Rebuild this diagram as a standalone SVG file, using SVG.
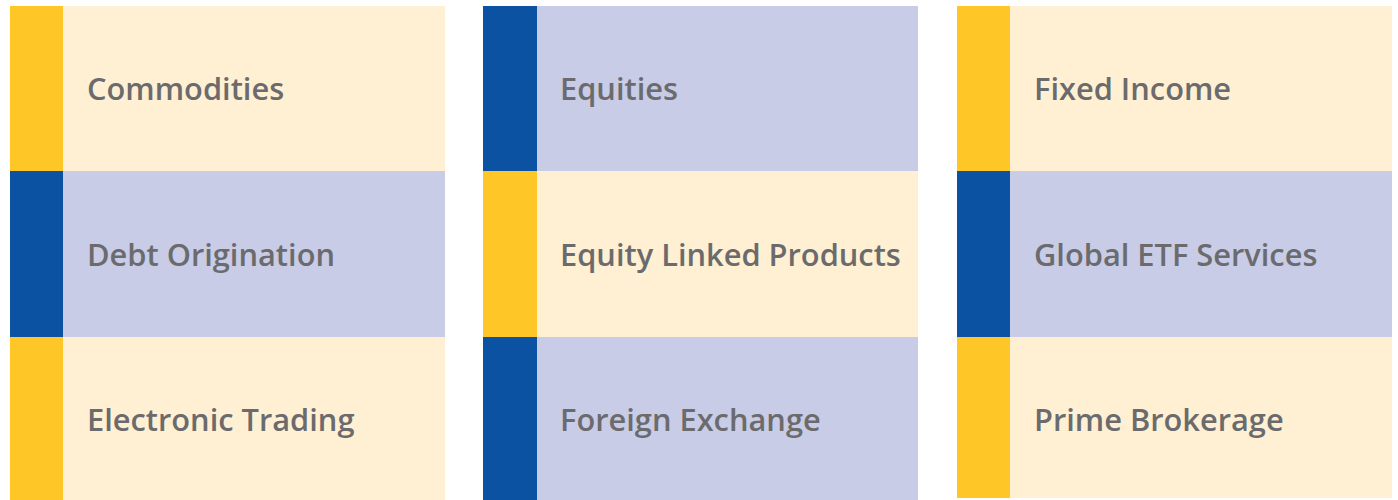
<svg xmlns="http://www.w3.org/2000/svg" width="1398" height="500" viewBox="0 0 1398 500">
<style>
.y{fill:#FFC627}.b{fill:#0B52A3}.py{fill:#FFF0D3}.pb{fill:#C8CCE7}
text{font-family:"Open Sans","Liberation Sans",sans-serif;font-weight:600;font-size:30.8px;fill:#6B6B6D}
</style>
<rect width="1398" height="500" fill="#fff"/>
<g id="commodities"><rect class="y" x="10" y="6" width="53" height="165"/><rect class="py" x="63" y="6" width="382" height="165"/><text x="87" y="100">Commodities</text></g>
<g id="debt-origination"><rect class="b" x="10" y="171" width="53" height="166"/><rect class="pb" x="63" y="171" width="382" height="166"/><text x="87" y="266">Debt Origination</text></g>
<g id="electronic-trading"><rect class="y" x="10" y="337" width="53" height="163"/><rect class="py" x="63" y="337" width="382" height="163"/><text x="87" y="431">Electronic Trading</text></g>
<g id="equities"><rect class="b" x="483" y="6" width="54" height="165"/><rect class="pb" x="537" y="6" width="381" height="165"/><text x="560" y="100">Equities</text></g>
<g id="equity-linked-products"><rect class="y" x="483" y="171" width="54" height="166"/><rect class="py" x="537" y="171" width="381" height="166"/><text x="560" y="266">Equity Linked Products</text></g>
<g id="foreign-exchange"><rect class="b" x="483" y="337" width="54" height="163"/><rect class="pb" x="537" y="337" width="381" height="163"/><text x="560" y="431">Foreign Exchange</text></g>
<g id="fixed-income"><rect class="y" x="957" y="6" width="53" height="165"/><rect class="py" x="1010" y="6" width="382" height="165"/><text x="1034" y="100">Fixed Income</text></g>
<g id="global-etf-services"><rect class="b" x="957" y="171" width="53" height="166"/><rect class="pb" x="1010" y="171" width="382" height="166"/><text x="1034" y="266">Global ETF Services</text></g>
<g id="prime-brokerage"><rect class="y" x="957" y="337" width="53" height="161"/><rect class="py" x="1010" y="337" width="382" height="161"/><text x="1034" y="431">Prime Brokerage</text></g>
<g id="connectors"/>
</svg>
